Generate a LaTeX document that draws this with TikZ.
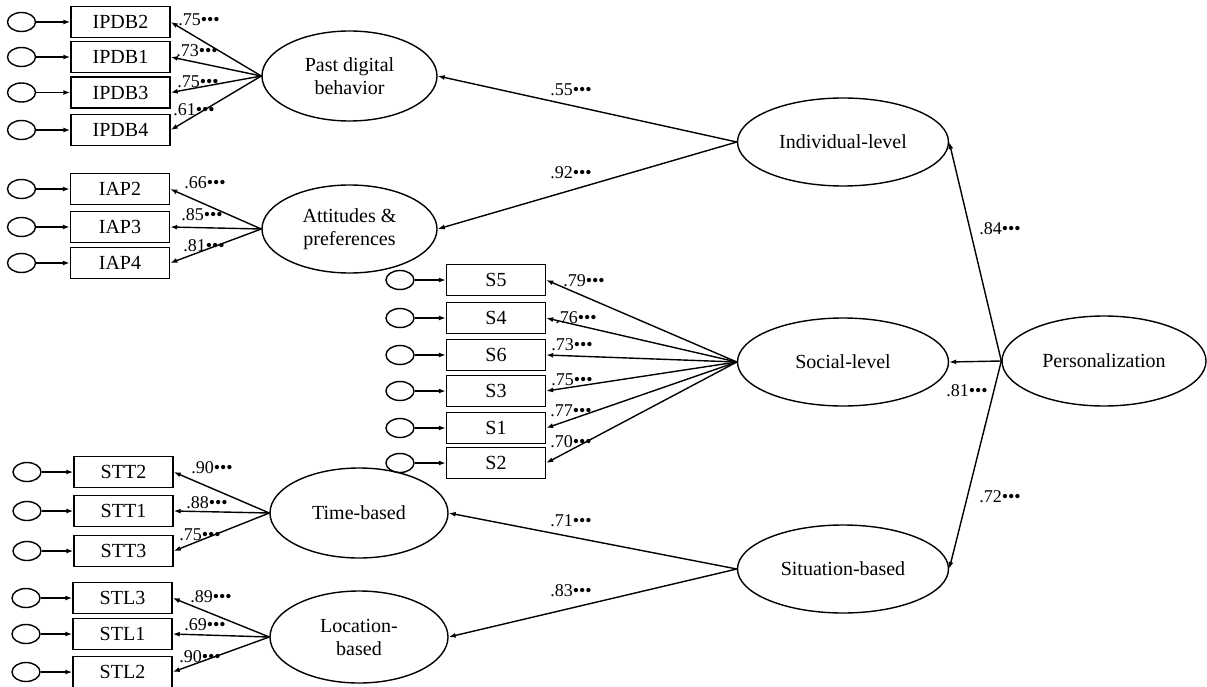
\documentclass[tikz,border=0pt]{standalone}
\usepackage{fontspec}
\setmainfont{Liberation Serif}
\usetikzlibrary{shapes.geometric,arrows.meta}
\newcommand\sigstars{\textbullet\textbullet\textbullet}
\tikzset{
  obs/.style={draw,rectangle,minimum width=99pt,minimum height=31pt,inner sep=0pt,font=\fontsize{20}{23}\selectfont},
  err/.style={draw,ellipse,minimum width=28pt,minimum height=19pt,inner sep=0pt},
  lat/.style={draw,ellipse,inner sep=0pt,align=center,font=\fontsize{20}{23}\selectfont},
  coef/.style={inner sep=0pt,font=\fontsize{18}{20}\selectfont}
}
\begin{document}
\begin{tikzpicture}[x=1pt,y=-1pt,line width=1.4pt]
      \useasboundingbox (0,0) rectangle (1207,687);
      \draw
        (120.5,22) node[obs] (ipdb2){IPDB2}
        (120.5,57) node[obs] (ipdb1){IPDB1}
        (120.5,92.5) node[obs] (ipdb3){IPDB3}
        (120.5,130) node[obs] (ipdb4){IPDB4}
        (120,189) node[obs] (iap2){IAP2}
        (120,227) node[obs] (iap3){IAP3}
        (120,263) node[obs] (iap4){IAP4}
        (496,280) node[obs] (s5){S5}
        (496,318) node[obs] (s4){S4}
        (496,355) node[obs] (s6){S6}
        (496,391) node[obs] (s3){S3}
        (496,428) node[obs] (s1){S1}
        (496,463) node[obs] (s2){S2}
        (123.5,472) node[obs] (stt2){STT2}
        (123.5,511) node[obs] (stt1){STT1}
        (123.5,551) node[obs] (stt3){STT3}
        (122.5,598) node[obs] (stl3){STL3}
        (122.5,634) node[obs] (stl1){STL1}
        (122.5,672) node[obs] (stl2){STL2};
      \draw
        (21.5,22) node[err] (eipdb2){}
        (21.5,57) node[err] (eipdb1){}
        (21.5,92.5) node[err] (eipdb3){}
        (21.5,130) node[err] (eipdb4){}
        (21.5,189) node[err] (eiap2){}
        (21.5,227) node[err] (eiap3){}
        (21.5,263) node[err] (eiap4){}
        (400,280) node[err] (es5){}
        (400,318) node[err] (es4){}
        (400,355) node[err] (es6){}
        (400,391) node[err] (es3){}
        (400,428) node[err] (es1){}
        (400,463) node[err] (es2){}
        (27,472) node[err] (estt2){}
        (27,511) node[err] (estt1){}
        (27,551) node[err] (estt3){}
        (26,598) node[err] (estl3){}
        (26,634) node[err] (estl1){}
        (26,672) node[err] (estl2){};
      \draw
        (349.5,76) node[lat,minimum width=175pt,minimum height=90pt] (pdb){Past digital\\behavior}
        (349.5,229) node[lat,minimum width=175pt,minimum height=88pt] (att){Attitudes \&\\preferences}
        (843,142) node[lat,minimum width=211pt,minimum height=88pt] (ind){Individual-level}
        (843,362) node[lat,minimum width=211pt,minimum height=88pt] (soc){Social-level}
        (843,569) node[lat,minimum width=211pt,minimum height=88pt] (sit){Situation-based}
        (1104,361) node[lat,minimum width=204pt,minimum height=90pt] (pers){Personalization}
        (359,513) node[lat,minimum width=178pt,minimum height=90pt] (time){Time-based}
        (359,637) node[lat,minimum width=178pt,minimum height=92pt] (loc){Location-\\based};
      \begin{scope}[-{Latex[length=7pt,width=5pt]}]
        \draw (eipdb2) to (ipdb2);
        \draw (eipdb1) to (ipdb1);
        \draw (eipdb3) to (ipdb3);
        \draw (eipdb4) to (ipdb4);
        \draw (eiap2) to (iap2);
        \draw (eiap3) to (iap3);
        \draw (eiap4) to (iap4);
        \draw (es5) to (s5);
        \draw (es4) to (s4);
        \draw (es6) to (s6);
        \draw (es3) to (s3);
        \draw (es1) to (s1);
        \draw (es2) to (s2);
        \draw (estt2) to (stt2);
        \draw (estt1) to (stt1);
        \draw (estt3) to (stt3);
        \draw (estl3) to (stl3);
        \draw (estl1) to (stl1);
        \draw (estl2) to (stl2);
        \draw (pdb.west) to (ipdb2.east);
        \draw (pdb.west) to (ipdb1.east);
        \draw (pdb.west) to (ipdb3.east);
        \draw (pdb.west) to (ipdb4.east);
        \draw (att.west) to (iap2.east);
        \draw (att.west) to (iap3.east);
        \draw (att.west) to (iap4.east);
        \draw (soc.west) to (s5.east);
        \draw (soc.west) to (s4.east);
        \draw (soc.west) to (s6.east);
        \draw (soc.west) to (s3.east);
        \draw (soc.west) to (s1.east);
        \draw (soc.west) to (s2.east);
        \draw (time.west) to (stt2.east);
        \draw (time.west) to (stt1.east);
        \draw (time.west) to (stt3.east);
        \draw (loc.west) to (stl3.east);
        \draw (loc.west) to (stl1.east);
        \draw (loc.west) to (stl2.east);
        \draw (ind.west) to (pdb.east);
        \draw (ind.west) to (att.east);
        \draw (sit.west) to (time.east);
        \draw (sit.west) to (loc.east);
        \draw (pers.west) to (ind.east);
        \draw (pers.west) to (soc.east);
        \draw (pers.west) to (sit.east);
      \end{scope}
      \draw
        (199,20) node[coef] (c1){.75\sigstars}
        (197,51) node[coef] (c2){.73\sigstars}
        (198,82) node[coef] (c3){.75\sigstars}
        (194,110) node[coef] (c4){.61\sigstars}
        (205,183) node[coef] (c5){.66\sigstars}
        (202,215) node[coef] (c6){.85\sigstars}
        (204,246) node[coef] (c7){.81\sigstars}
        (584,281) node[coef] (c8){.79\sigstars}
        (576,318) node[coef] (c9){.76\sigstars}
        (572,345) node[coef] (c10){.73\sigstars}
        (572,380) node[coef] (c11){.75\sigstars}
        (571,411) node[coef] (c12){.77\sigstars}
        (571,442) node[coef] (c13){.70\sigstars}
        (212,468) node[coef] (c14){.90\sigstars}
        (207,503) node[coef] (c15){.88\sigstars}
        (200,535) node[coef] (c16){.75\sigstars}
        (211,597) node[coef] (c17){.89\sigstars}
        (205,625) node[coef] (c18){.69\sigstars}
        (200,657) node[coef] (c19){.90\sigstars}
        (571,90) node[coef] (c20){.55\sigstars}
        (571,173) node[coef] (c21){.92\sigstars}
        (571,521) node[coef] (c22){.71\sigstars}
        (571,591) node[coef] (c23){.83\sigstars}
        (1000,229) node[coef] (c24){.84\sigstars}
        (967,391) node[coef] (c25){.81\sigstars}
        (1000,497) node[coef] (c26){.72\sigstars};
    \end{tikzpicture}
\end{document}
